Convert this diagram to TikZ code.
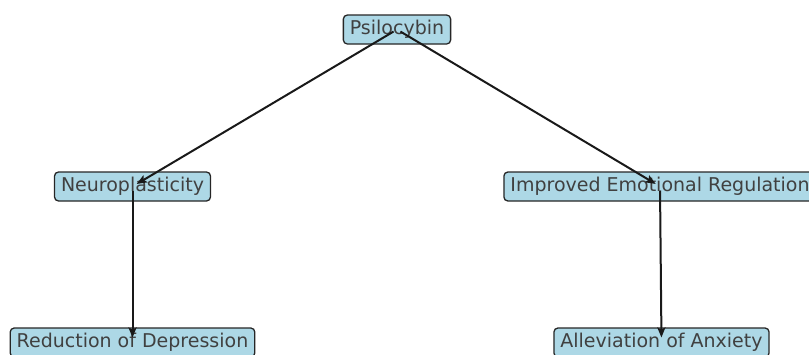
\documentclass[tikz,border=0pt]{standalone}
\usepackage{fontspec}
\setmainfont{DejaVu Sans}
\usetikzlibrary{arrows.meta}
\definecolor{boxfill}{HTML}{ADD8E6}
\definecolor{txt}{HTML}{404040}
\begin{document}
\begin{tikzpicture}[x=1pt,y=-1pt,
  box/.style={draw=black!85,fill=boxfill,rounded corners=4pt,line width=1.3pt,
    minimum height=29pt,inner xsep=6.5pt,inner ysep=0pt,text=txt,
    font=\fontsize{19}{20}\selectfont},
  edge/.style={-{Stealth[length=10pt,width=8pt,inset=2pt]},line width=2pt,black!90,
    shorten >=5pt,shorten <=4pt}]
\useasboundingbox (0,0) rectangle (809,354);
\clip (0,0) rectangle (809,354);
\node[box] (p) at (397,29.5) {Psilocybin};
\node[box] (n) at (132.5,186.5) {Neuroplasticity};
\node[box] (e) at (660,186.5) {Improved Emotional Regulation};
\node[box] (d) at (132.5,342.5) {Reduction of Depression};
\node[box] (a) at (661.5,342.5) {Alleviation of Anxiety};
\draw[edge] (p.center) -- (n.center);
\draw[edge] (p.center) -- (e.center);
\draw[edge] (n.center) -- (d.center);
\draw[edge] (e.center) -- (a.center);
\end{tikzpicture}
\end{document}
